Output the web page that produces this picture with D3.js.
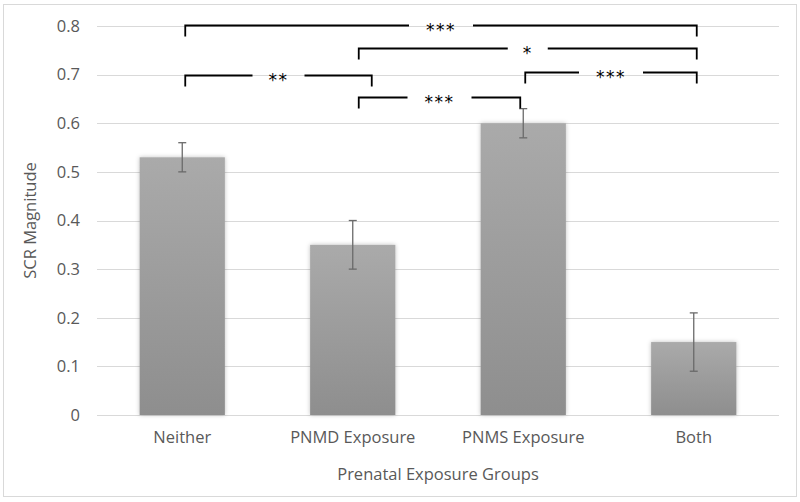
<!DOCTYPE html>
<html>
<head>
<meta charset="utf-8">
<script src="https://cdn.jsdelivr.net/npm/d3@7"></script>
<style>
  body { margin: 0; background: #fff; }
  text { font-family: "Open Sans", Lato, sans-serif; }
</style>
</head>
<body>
<script>
// ---- data ----
var categories = ["Neither", "PNMD Exposure", "PNMS Exposure", "Both"];
var means = [0.53, 0.35, 0.60, 0.15];
var errors = [0.03, 0.05, 0.03, 0.06];
var yTicks = [0, 0.1, 0.2, 0.3, 0.4, 0.5, 0.6, 0.7, 0.8];

// significance brackets: from / to category, height (data units), label
var bracketFrom = [0, 1, 0, 1, 2];
var bracketTo = [3, 3, 1, 2, 3];
var bracketLevel = [0.802, 0.755, 0.70, 0.655, 0.705];
var bracketLabel = ["***", "*", "**", "***", "***"];

// ---- layout ----
var width = 800, height = 502;
var margin = {top: 26, right: 20, bottom: 87, left: 97};
var plotW = 779 - margin.left;
var plotH = 415 - margin.top;
var fontSize = "16.5px";

var svg = d3.select("body").append("svg")
    .attr("width", width)
    .attr("height", height);

// outer frame
svg.append("rect")
    .attr("x", 3.5).attr("y", 4.5)
    .attr("width", 793).attr("height", 492)
    .attr("fill", "none")
    .attr("stroke", "#d9d9d9");

var defs = svg.append("defs");
var grad = defs.append("linearGradient")
    .attr("id", "barGrad")
    .attr("x1", 0).attr("y1", 0).attr("x2", 0).attr("y2", 1);
grad.append("stop").attr("offset", "0%").attr("stop-color", "#aaaaaa");
grad.append("stop").attr("offset", "100%").attr("stop-color", "#8e8e8e");

var shadow = defs.append("filter")
    .attr("id", "barShadow")
    .attr("x", "-20%").attr("y", "-20%")
    .attr("width", "140%").attr("height", "140%");
shadow.append("feDropShadow")
    .attr("dx", 0).attr("dy", 0)
    .attr("stdDeviation", 2.2)
    .attr("flood-color", "#000")
    .attr("flood-opacity", 0.25);

var g = svg.append("g")
    .attr("transform", "translate(" + margin.left + "," + margin.top + ")");

var x = d3.scaleBand()
    .domain(categories)
    .range([0, plotW])
    .paddingInner(0.5)
    .paddingOuter(0.25);

var y = d3.scaleLinear()
    .domain([0, 0.8])
    .range([plotH, 0]);

// gridlines
g.selectAll(".grid")
    .data(yTicks)
    .enter().append("line")
    .attr("x1", 0).attr("x2", plotW)
    .attr("y1", function(d) { return Math.round(y(d)) + 0.5; })
    .attr("y2", function(d) { return Math.round(y(d)) + 0.5; })
    .attr("stroke", "#d9d9d9")
    .attr("stroke-width", 1);

// y axis
var yAxis = d3.axisLeft(y)
    .tickValues(yTicks)
    .tickSize(0)
    .tickPadding(17)
    .tickFormat(function(d) { return d === 0 ? "0" : d3.format(".1f")(d); });
var yg = g.append("g").call(yAxis);
yg.select(".domain").remove();
yg.selectAll("text")
    .attr("fill", "#595959")
    .style("font-size", fontSize);

// x axis
var xAxis = d3.axisBottom(x).tickSize(0).tickPadding(16);
var xg = g.append("g")
    .attr("transform", "translate(0," + plotH + ")")
    .call(xAxis);
xg.select(".domain").remove();
xg.selectAll("text")
    .attr("fill", "#595959")
    .style("font-size", fontSize);

// bars
g.selectAll(".bar")
    .data(means)
    .enter().append("rect")
    .attr("x", function(d, i) { return x(categories[i]); })
    .attr("y", function(d) { return y(d); })
    .attr("width", x.bandwidth())
    .attr("height", function(d) { return plotH - y(d); })
    .attr("fill", "url(#barGrad)")
    .attr("filter", "url(#barShadow)");

// error bars
var eb = g.selectAll(".err")
    .data(means)
    .enter().append("g")
    .attr("stroke", "#6a6a6a")
    .attr("stroke-width", 1.3);
eb.append("line")
    .attr("x1", function(d, i) { return x(categories[i]) + x.bandwidth() / 2; })
    .attr("x2", function(d, i) { return x(categories[i]) + x.bandwidth() / 2; })
    .attr("y1", function(d, i) { return y(d - errors[i]); })
    .attr("y2", function(d, i) { return y(d + errors[i]); });
[-1, 1].forEach(function(s) {
  eb.append("line")
      .attr("x1", function(d, i) { return x(categories[i]) + x.bandwidth() / 2 - 4; })
      .attr("x2", function(d, i) { return x(categories[i]) + x.bandwidth() / 2 + 4; })
      .attr("y1", function(d, i) { return y(d + s * errors[i]); })
      .attr("y2", function(d, i) { return y(d + s * errors[i]); });
});

// brackets (small end nudges to follow the original drawing)
var nudgeFrom = [3, 6, 3, 6, 2];
var nudgeTo = [3, 3, 19, -3, 3];
var brackets = bracketLabel.map(function(lab, i) {
  return {
    x1: x(categories[bracketFrom[i]]) + x.bandwidth() / 2 + nudgeFrom[i],
    x2: x(categories[bracketTo[i]]) + x.bandwidth() / 2 + nudgeTo[i],
    yy: Math.round(y(bracketLevel[i])) + 0.5,
    label: lab
  };
});

var bg = g.selectAll(".bracket")
    .data(brackets)
    .enter().append("g");

bg.each(function(d) {
  var sel = d3.select(this);
  var mid = (d.x1 + d.x2) / 2;
  var gap = 14 + d.label.length * 6;
  var path = d3.path();
  path.moveTo(d.x1, d.yy + 11);
  path.lineTo(d.x1, d.yy);
  path.lineTo(mid - gap, d.yy);
  path.moveTo(mid + gap, d.yy);
  path.lineTo(d.x2, d.yy);
  path.lineTo(d.x2, d.yy + 11);
  sel.append("path")
      .attr("d", path.toString())
      .attr("fill", "none")
      .attr("stroke", "#000")
      .attr("stroke-width", 1.8);
  sel.append("text")
      .attr("x", mid)
      .attr("y", d.yy + 10)
      .attr("text-anchor", "middle")
      .attr("fill", "#000")
      .style("font-family", "'DejaVu Sans', sans-serif")
      .style("font-size", "17px")
      .style("letter-spacing", "1.5px")
      .text(d.label);
});

// axis titles
svg.append("text")
    .attr("transform", "translate(36," + (margin.top + plotH / 2) + ") rotate(-90)")
    .attr("text-anchor", "middle")
    .attr("fill", "#595959")
    .style("font-size", fontSize)
    .text("SCR Magnitude");

svg.append("text")
    .attr("x", margin.left + plotW / 2)
    .attr("y", 480)
    .attr("text-anchor", "middle")
    .attr("fill", "#595959")
    .style("font-size", fontSize)
    .text("Prenatal Exposure Groups");
</script>
</body>
</html>
